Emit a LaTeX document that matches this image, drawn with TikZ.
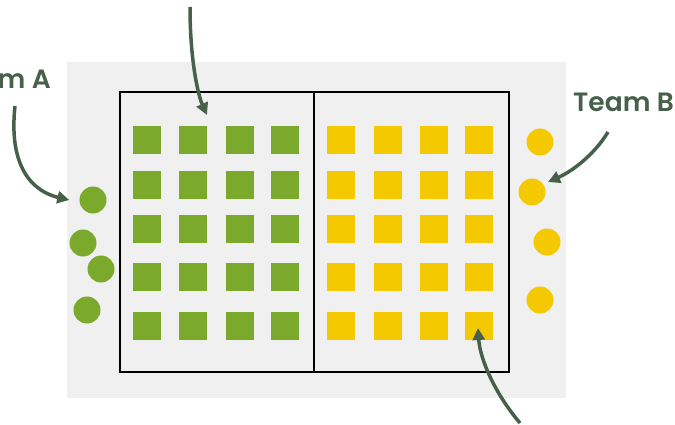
\documentclass[tikz,border=0pt]{standalone}
\usepackage{fontspec}
\IfFontExistsTF{Poppins SemiBold}
  {\setmainfont{Poppins}[BoldFont={Poppins SemiBold}]}
  {\setmainfont{Poppins}}
\usetikzlibrary{arrows.meta}
\definecolor{courtgray}{HTML}{F0F0F0}
\definecolor{teamgreen}{HTML}{7AA92B}
\definecolor{teamyellow}{HTML}{F5C900}
\definecolor{labelgreen}{HTML}{46604A}
\tikzset{
  player/.style={circle,fill=#1,minimum size=27pt,inner sep=0pt},
  seat/.style={rectangle,fill=#1,minimum size=28.5pt,inner sep=0pt},
  pointer/.style={labelgreen,line width=3.5pt,-{Triangle[length=12pt,width=12pt]}},
  teamlabel/.style={labelgreen,font=\bfseries\fontsize{26.5}{30}\selectfont,inner sep=0pt}
}
\begin{document}
\begin{tikzpicture}[x=1pt,y=-1pt]
\useasboundingbox (0,0) rectangle (675,425);
% Court with the two halves
\fill[courtgray] (67,62) rectangle (566,398);
\node[draw=black,line width=2pt,minimum width=389pt,minimum height=280pt,inner sep=0pt] (court) at (314.5,232) {};
\draw[black,line width=2pt] (313.5,0 |- court.north) -- (313.5,0 |- court.south);

% Squares of both teams
\foreach \y [count=\r] in {140,185,229,277,326}{
  \foreach \x [count=\c] in {147,193,240,285}
    \node[seat=teamgreen] (a\r\c) at (\x,\y) {};
  \foreach \x [count=\c] in {341,388,434,479}
    \node[seat=teamyellow] (b\r\c) at (\x,\y) {};
}

% Players outside the court
\node[player=teamgreen] (pa1) at (93,200) {};
\node[player=teamgreen] (pa2) at (83,243) {};
\node[player=teamgreen] (pa3) at (101,269) {};
\node[player=teamgreen] (pa4) at (87,310) {};
\node[player=teamyellow] (pb1) at (540,142) {};
\node[player=teamyellow] (pb2) at (532,192) {};
\node[player=teamyellow] (pb3) at (547,242) {};
\node[player=teamyellow] (pb4) at (540,300) {};

% Labels
\node[teamlabel,anchor=base east] (labA) at (51,89) {Team A};
\node[teamlabel,anchor=base west] (labB) at (573,112) {Team B};

% Pointers
\coordinate (topstart) at (190,7);
\coordinate (toptip) at (207,115);
\coordinate (startA) at (15,106);
\coordinate (startB) at (608,132);
\coordinate (botstart) at (520,423);
\draw[pointer] (topstart) .. controls (190,60) and (198,95) .. (toptip);
\draw[pointer] (startA) .. controls (8,170) and (35,192) .. ([xshift=-10pt]pa1.west);
\draw[pointer] (startB) .. controls (596,152) and (575,170) .. ([shift={(16,-10)}]pb2.center);
\draw[pointer] (botstart) .. controls (496,395) and (480,360) .. ([shift={(-1,2)}]b54.center);
\end{tikzpicture}
\end{document}
